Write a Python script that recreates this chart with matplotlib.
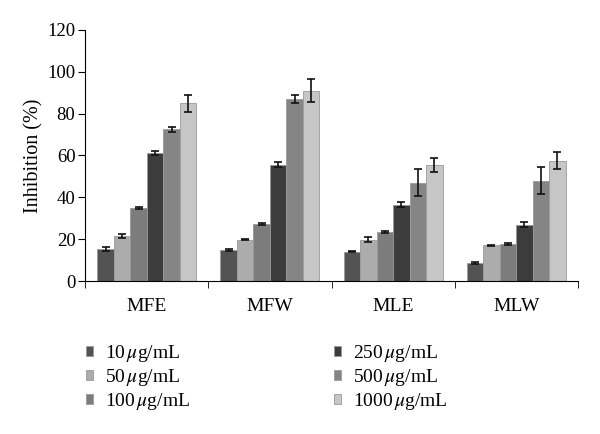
import matplotlib
matplotlib.use('Agg')
import matplotlib.pyplot as plt
import numpy as np

plt.rcParams['font.family'] = 'Liberation Serif'
plt.rcParams['mathtext.fontset'] = 'stix'

# extracts and concentrations
groups = ['MFE', 'MFW', 'MLE', 'MLW']
doses = ['10', '50', '100', '250', '500', '1000']

# inhibition (%) per dose, one list per dose across groups
inhib = [
    [15.2, 14.8, 14.0, 8.5],
    [21.5, 19.8, 19.8, 17.0],
    [35.0, 27.2, 23.5, 17.5],
    [61.0, 55.5, 36.5, 27.0],
    [72.5, 87.0, 47.0, 48.0],
    [85.0, 91.0, 55.5, 57.5],
]
errs = [
    [1.0, 0.3, 0.3, 0.4],
    [0.8, 0.4, 1.0, 0.3],
    [0.5, 0.4, 0.4, 0.5],
    [1.0, 1.2, 1.2, 1.0],
    [1.2, 2.0, 6.5, 6.5],
    [4.0, 5.5, 3.5, 4.0],
]
colors = ['#535353', '#acacac', '#7c7c7c', '#3c3c3c', '#858585', '#c6c6c6']

fig = plt.figure(figsize=(6, 4.34), dpi=100)
ax = fig.add_axes([0.142, 0.3525, 0.821, 0.5785])

x = np.arange(len(groups))
w = 0.134
for i in range(len(doses)):
    pos = x + (i - 2.5) * w
    ax.bar(pos, inhib[i], width=w, color=colors[i], edgecolor='#9a9a9a',
           linewidth=0.6, label=doses[i] + r'$\,\mu$g/mL', zorder=2)
    ax.errorbar(pos, inhib[i], yerr=errs[i], fmt='none', ecolor='#111111',
                elinewidth=1.2, capsize=3, capthick=1.2, zorder=3)

ax.set_xlim(-0.5, 3.5)
ax.set_ylim(0, 120)
ax.set_yticks(np.arange(0, 121, 20))
ax.set_xticks(x)
ax.set_xticklabels(groups, fontsize=14)
ax.set_xticks(np.arange(-0.5, 3.6, 1), minor=True)
ax.tick_params(axis='x', which='major', length=0, pad=12)
ax.tick_params(axis='x', which='minor', length=5, direction='out')
ax.tick_params(axis='y', labelsize=13.5, length=5, direction='out', pad=2)
ax.spines['top'].set_visible(False)
ax.spines['right'].set_visible(False)
ax.set_ylabel('Inhibition (%)', fontsize=14.5, labelpad=3)

fig.legend(loc='upper left', bbox_to_anchor=(0.143, 0.21), ncol=2,
           frameon=False, fontsize=14, handlelength=0.38, handleheight=0.38,
           handletextpad=0.6, columnspacing=7.4, labelspacing=0.15,
           borderpad=0, borderaxespad=0)

fig.savefig('out.png', dpi=100)
